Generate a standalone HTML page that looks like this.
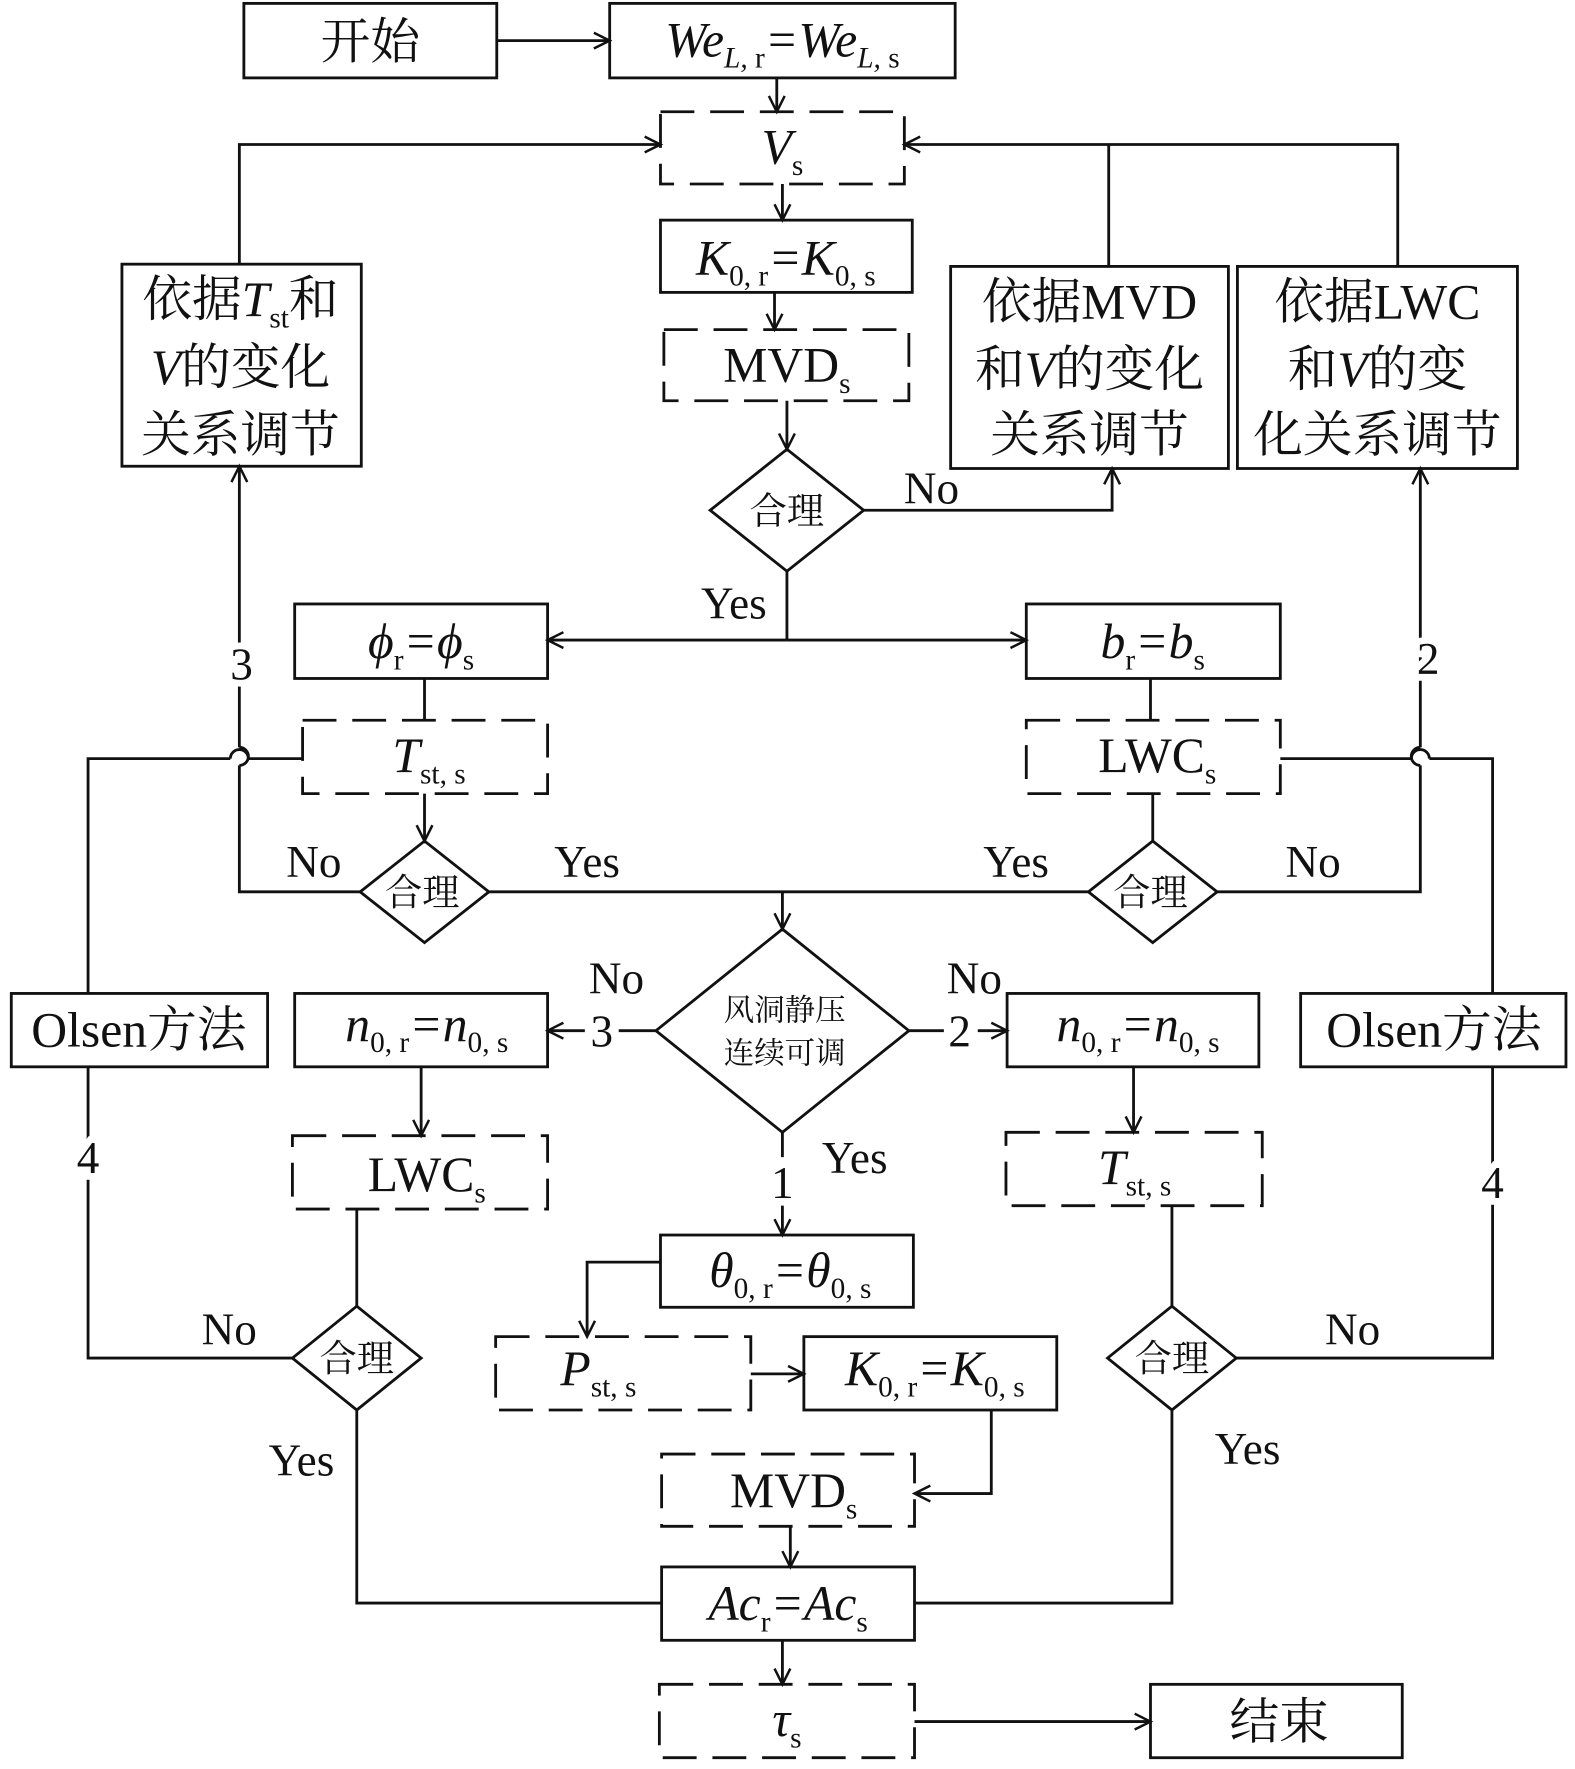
<!DOCTYPE html>
<html><head><meta charset="utf-8"><style>
html,body{margin:0;padding:0;background:#fff;}
svg{display:block;}
text{font-family:"Liberation Serif","Noto Serif CJK SC",serif;fill:#111;}
.num{paint-order:stroke;stroke:#fff;stroke-width:12px;}
</style></head><body>
<svg width="1575" height="1769" viewBox="0 0 1395 1567" preserveAspectRatio="none" xmlns="http://www.w3.org/2000/svg">
<defs>
<marker id="a" markerWidth="20" markerHeight="20" refX="16" refY="8" orient="auto" markerUnits="userSpaceOnUse">
<polyline points="2,1 16,8 2,15" fill="none" stroke="#111" stroke-width="2.2"/>
</marker>
</defs>
<g fill="none" stroke="#111" stroke-width="2.5">
<rect x="216" y="3" width="224" height="66"/>
<rect x="540" y="3" width="306" height="66"/>
<rect x="585" y="195" width="223" height="64"/>
<rect x="108" y="234" width="212" height="179"/>
<rect x="842" y="236" width="246" height="179"/>
<rect x="1096" y="236" width="248" height="179"/>
<rect x="261" y="535" width="224" height="66"/>
<rect x="909" y="535" width="225" height="66"/>
<rect x="10" y="880" width="227" height="65"/>
<rect x="1152" y="880" width="235" height="65"/>
<rect x="261" y="880" width="224" height="65"/>
<rect x="892" y="880" width="223" height="65"/>
<rect x="585" y="1094" width="224" height="64"/>
<rect x="712" y="1184" width="224" height="65"/>
<rect x="586" y="1388" width="224" height="65"/>
<rect x="1019" y="1492" width="223" height="65"/>
</g>
<g fill="none" stroke="#111" stroke-width="2.5" stroke-dasharray="30,14">
<rect x="585" y="99" width="216" height="64"/>
<rect x="588" y="292" width="217" height="63"/>
<rect x="268" y="638" width="217" height="65"/>
<rect x="909" y="638" width="225" height="65"/>
<rect x="259" y="1006" width="226" height="65"/>
<rect x="891" y="1003" width="227" height="65"/>
<rect x="439" y="1184" width="226" height="65"/>
<rect x="586" y="1288" width="224" height="64"/>
<rect x="584" y="1492" width="226" height="65"/>
</g>
<g fill="#fff" stroke="#111" stroke-width="2.5">
<polygon points="629,452 697,398 765,452 697,506"/>
<polygon points="319,790 376,745 433,790 376,835"/>
<polygon points="964,790 1021,745 1078,790 1021,835"/>
<polygon points="581,913 693,823 805,913 693,1003"/>
<polygon points="259,1203 316,1157 373,1203 316,1249"/>
<polygon points="981,1203 1038,1157 1095,1203 1038,1249"/>
</g>
<g fill="none" stroke="#111" stroke-width="2.5">
<line x1="440" y1="36" x2="540" y2="36" marker-end="url(#a)"/>
<line x1="688" y1="69" x2="688" y2="99" marker-end="url(#a)"/>
<line x1="693" y1="163" x2="693" y2="195" marker-end="url(#a)"/>
<line x1="686" y1="259" x2="686" y2="292" marker-end="url(#a)"/>
<line x1="697" y1="355" x2="697" y2="398" marker-end="url(#a)"/>
<polyline points="765,452 985,452 985,415" marker-end="url(#a)"/>
<line x1="697" y1="506" x2="697" y2="567"/>
<line x1="697" y1="567" x2="485" y2="567" marker-end="url(#a)"/>
<line x1="697" y1="567" x2="909" y2="567" marker-end="url(#a)"/>
<polyline points="982,236 982,128"/>
<polyline points="1238,236 1238,128 801,128" marker-end="url(#a)"/>
<polyline points="212,234 212,128 585,128" marker-end="url(#a)"/>
<line x1="376" y1="601" x2="376" y2="638"/>
<line x1="376" y1="703" x2="376" y2="745" marker-end="url(#a)"/>
<line x1="1019" y1="601" x2="1019" y2="638"/>
<line x1="1021" y1="703" x2="1021" y2="745"/>
<polyline points="319,790 212,790 212,678"/>
<path d="M212,678 A8,8 0 0 0 212,662"/>
<line x1="212" y1="662" x2="212" y2="413" marker-end="url(#a)"/>
<line x1="433" y1="790" x2="964" y2="790"/>
<line x1="693" y1="790" x2="693" y2="823" marker-end="url(#a)"/>
<polyline points="1078,790 1258,790 1258,678"/>
<path d="M1258,678 A8,8 0 0 1 1258,662"/>
<line x1="1258" y1="662" x2="1258" y2="415" marker-end="url(#a)"/>
<polyline points="78,880 78,672 204,672"/>
<path d="M204,672 A8,8 0 0 1 220,672"/>
<line x1="220" y1="672" x2="268" y2="672"/>
<polyline points="78,945 78,1203 259,1203"/>
<polyline points="1322,880 1322,672 1266,672"/>
<path d="M1266,672 A8,8 0 0 0 1250,672"/>
<line x1="1250" y1="672" x2="1134" y2="672"/>
<polyline points="1322,945 1322,1203 1095,1203"/>
<line x1="581" y1="913" x2="548" y2="913"/>
<line x1="518" y1="913" x2="485" y2="913" marker-end="url(#a)"/>
<line x1="805" y1="913" x2="836" y2="913"/>
<line x1="866" y1="913" x2="892" y2="913" marker-end="url(#a)"/>
<line x1="693" y1="1003" x2="693" y2="1025"/>
<line x1="693" y1="1068" x2="693" y2="1094" marker-end="url(#a)"/>
<line x1="373" y1="945" x2="373" y2="1006" marker-end="url(#a)"/>
<line x1="316" y1="1071" x2="316" y2="1157"/>
<line x1="1004" y1="945" x2="1004" y2="1003" marker-end="url(#a)"/>
<line x1="1038" y1="1068" x2="1038" y2="1157"/>
<polyline points="585,1118 520,1118 520,1184" marker-end="url(#a)"/>
<line x1="665" y1="1217" x2="712" y2="1217" marker-end="url(#a)"/>
<polyline points="878,1249 878,1323 810,1323" marker-end="url(#a)"/>
<line x1="700" y1="1352" x2="700" y2="1388" marker-end="url(#a)"/>
<polyline points="316,1249 316,1420 586,1420"/>
<polyline points="1038,1249 1038,1420 810,1420"/>
<line x1="693" y1="1453" x2="693" y2="1492" marker-end="url(#a)"/>
<line x1="810" y1="1525" x2="1019" y2="1525" marker-end="url(#a)"/>
</g>
<g font-size="44" text-anchor="middle">
<text x="328" y="52">开始</text>
<text x="693" y="50" font-style="italic">We<tspan font-size="26" dy="10">L, </tspan><tspan font-size="26" font-style="normal">r</tspan><tspan dy="-10">=We</tspan><tspan font-size="26" dy="10">L, </tspan><tspan font-size="26" font-style="normal">s</tspan></text>
<text x="693" y="145"><tspan font-style="italic">V</tspan><tspan font-size="26" dy="10">s</tspan></text>
<text x="696" y="243"><tspan font-style="italic">K</tspan><tspan font-size="26" dy="10">0, r</tspan><tspan dy="-10" font-style="italic">=K</tspan><tspan font-size="26" dy="10">0, s</tspan></text>
<text x="697" y="338">MVD<tspan font-size="26" dy="10">s</tspan></text>
<text x="213" y="280">依据<tspan font-style="italic">T</tspan><tspan font-size="26" dy="10">st</tspan><tspan dy="-10">和</tspan></text>
<text x="213" y="340"><tspan font-style="italic">V</tspan>的变化</text>
<text x="213" y="400">关系调节</text>
<text x="965" y="282">依据MVD</text>
<text x="965" y="342">和<tspan font-style="italic">V</tspan>的变化</text>
<text x="965" y="400">关系调节</text>
<text x="1220" y="282">依据LWC</text>
<text x="1220" y="342">和<tspan font-style="italic">V</tspan>的变</text>
<text x="1220" y="400">化关系调节</text>
<text x="373" y="583"><tspan font-style="italic">ϕ</tspan><tspan font-size="26" dy="10">r</tspan><tspan dy="-10" font-style="italic">=ϕ</tspan><tspan font-size="26" dy="10">s</tspan></text>
<text x="1021" y="583"><tspan font-style="italic">b</tspan><tspan font-size="26" dy="10">r</tspan><tspan dy="-10" font-style="italic">=b</tspan><tspan font-size="26" dy="10">s</tspan></text>
<text x="380" y="684"><tspan font-style="italic">T</tspan><tspan font-size="26" dy="10">st, s</tspan></text>
<text x="1025" y="684">LWC<tspan font-size="26" dy="10">s</tspan></text>
<text x="123" y="927">Olsen方法</text>
<text x="1270" y="927">Olsen方法</text>
<text x="378" y="922"><tspan font-style="italic">n</tspan><tspan font-size="26" dy="10">0, r</tspan><tspan dy="-10" font-style="italic">=n</tspan><tspan font-size="26" dy="10">0, s</tspan></text>
<text x="1008" y="922"><tspan font-style="italic">n</tspan><tspan font-size="26" dy="10">0, r</tspan><tspan dy="-10" font-style="italic">=n</tspan><tspan font-size="26" dy="10">0, s</tspan></text>
<text x="378" y="1055">LWC<tspan font-size="26" dy="10">s</tspan></text>
<text x="1005" y="1049"><tspan font-style="italic">T</tspan><tspan font-size="26" dy="10">st, s</tspan></text>
<text x="700" y="1140"><tspan font-style="italic">θ</tspan><tspan font-size="26" dy="10">0, r</tspan><tspan dy="-10" font-style="italic">=θ</tspan><tspan font-size="26" dy="10">0, s</tspan></text>
<text x="530" y="1227"><tspan font-style="italic">P</tspan><tspan font-size="26" dy="10">st, s</tspan></text>
<text x="828" y="1227"><tspan font-style="italic">K</tspan><tspan font-size="26" dy="10">0, r</tspan><tspan dy="-10" font-style="italic">=K</tspan><tspan font-size="26" dy="10">0, s</tspan></text>
<text x="703" y="1335">MVD<tspan font-size="26" dy="10">s</tspan></text>
<text x="698" y="1435"><tspan font-style="italic">Ac</tspan><tspan font-size="26" dy="10">r</tspan><tspan dy="-10" font-style="italic">=Ac</tspan><tspan font-size="26" dy="10">s</tspan></text>
<text x="697" y="1538"><tspan font-style="italic">τ</tspan><tspan font-size="26" dy="10">s</tspan></text>
<text x="1133" y="1540">结束</text>
</g>
<g font-size="40" text-anchor="middle">
<text x="825" y="446">No</text>
<text x="650" y="548">Yes</text>
<text class="num" x="214" y="602">3</text>
<text class="num" x="1265" y="597">2</text>
<text x="278" y="777">No</text>
<text x="520" y="777">Yes</text>
<text x="900" y="777">Yes</text>
<text x="1163" y="777">No</text>
<text x="546" y="880">No</text>
<text x="863" y="880">No</text>
<text x="533" y="927">3</text>
<text x="850" y="927">2</text>
<text x="757" y="1039">Yes</text>
<text class="num" x="693" y="1061">1</text>
<text class="num" x="78" y="1039">4</text>
<text class="num" x="1322" y="1061">4</text>
<text x="203" y="1191">No</text>
<text x="1198" y="1191">No</text>
<text x="267" y="1307">Yes</text>
<text x="1105" y="1297">Yes</text>
</g>
<g font-size="33" text-anchor="middle">
<text x="697" y="464">合理</text>
<text x="374" y="802">合理</text>
<text x="1019" y="802">合理</text>
<text x="316" y="1215">合理</text>
<text x="1038" y="1215">合理</text>
</g>
<g font-size="27" text-anchor="middle">
<text x="695" y="904">风洞静压</text>
<text x="695" y="942">连续可调</text>
</g>
</svg>
</body></html>
